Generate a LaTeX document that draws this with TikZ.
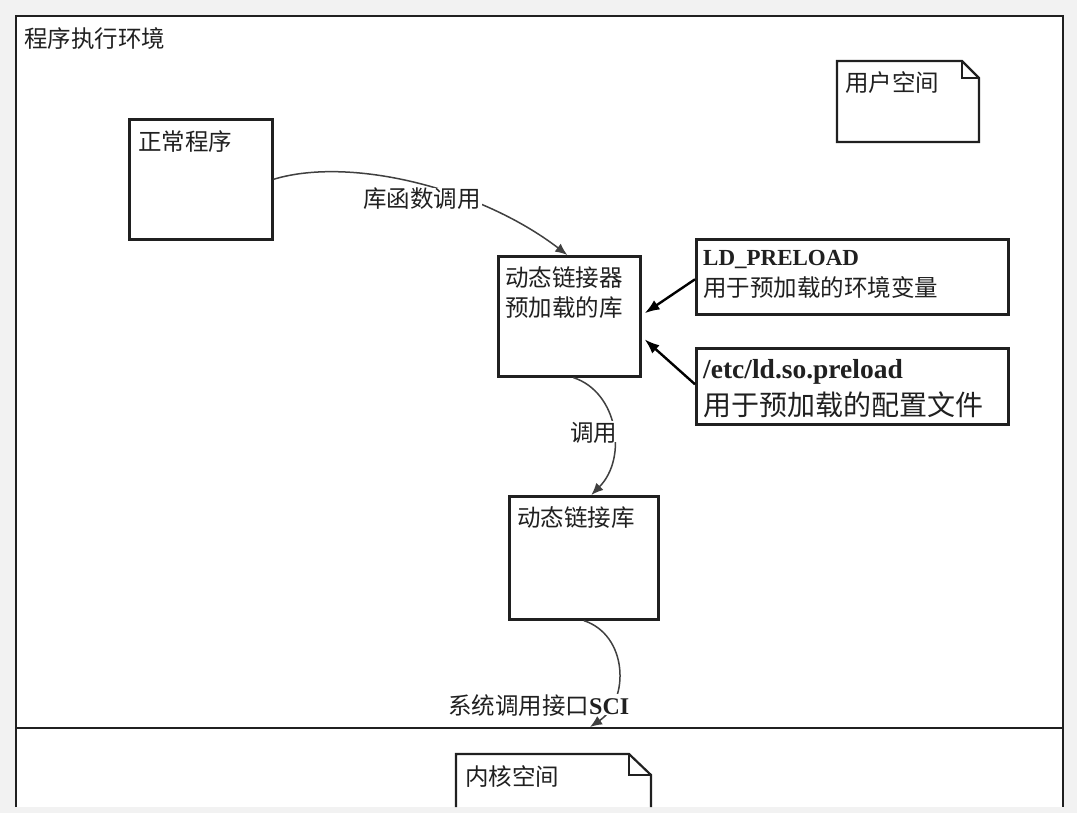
\documentclass[tikz,border=0pt]{standalone}
\usepackage{fontspec}
\setmainfont{Noto Sans CJK SC}
\newfontfamily\tnr{Liberation Serif}
\usetikzlibrary{arrows.meta}
\definecolor{ink}{HTML}{202020}
\definecolor{bgc}{HTML}{F2F2F2}
\definecolor{curvec}{HTML}{404040}
\begin{document}
\begin{tikzpicture}[x=1pt,y=-1pt,
  box/.style={draw=ink, line width=2.6pt, anchor=north west, inner sep=0pt},
  txt/.style={anchor=base west, inner sep=0pt, text=ink, font=\fontsize{23.5}{28}\selectfont},
  bigtxt/.style={txt, font=\fontsize{28}{32}\selectfont},
  lbl/.style={txt, fill=white, inner xsep=1pt, inner ysep=0.5pt, text depth=0pt},
  conn/.style={draw=curvec, line width=1.5pt, -{Latex[length=12pt,width=10pt]}},
  strong/.style={draw=black, line width=2.4pt, -{Latex[length=15pt,width=11pt]}},
  frame/.style={draw=ink, line width=2.6pt},
  note/.style={draw=ink, line width=2.2pt, line join=miter}]
\fill[bgc] (0,0) rectangle (1077,813);
\useasboundingbox (0,0) rectangle (1077,813);
% outer frame
\fill[white] (16,16) rectangle (1063,807);
\draw[frame] (16,807) -- (16,16) -- (1063,16) -- (1063,807);
\draw[draw=ink, line width=2.2pt] (16,728) -- (1063,728);
\node[txt] (env) at (24,48) {程序执行环境};
% user space note
\draw[note] (837,61) -- (962,61) -- (979,78) -- (979,142) -- (837,142) -- cycle;
\draw[note, line width=1.6pt] (962,61) -- (962,78) -- (979,78);
\node[txt] (user) at (845,91.5) {用户空间};
% kernel space note
\draw[note] (456,807) -- (456,754) -- (629,754) -- (651,775) -- (651,807);
\draw[note, line width=1.6pt] (629,754) -- (629,775) -- (651,775);
\node[txt] (kernel) at (465,785) {内核空间};
% boxes
\node[box, minimum width=143, minimum height=120] (np) at (128,118) {};
\node[txt] (npt) at (138,151) {正常程序};
\node[box, minimum width=142, minimum height=120] (dl) at (497,255) {};
\node[txt] (dlt1) at (505,287) {动态链接器};
\node[txt] (dlt2) at (505,316.5) {预加载的库};
\node[box, minimum width=312, minimum height=75] (ld) at (695,238) {};
\node[txt, font=\tnr\bfseries\fontsize{23}{26}\selectfont] (ldt1) at (703,266) {LD\_PRELOAD};
\node[txt] (ldt2) at (703,296.5) {用于预加载的环境变量};
\node[box, minimum width=312, minimum height=76] (etc) at (695,347) {};
\node[txt, font=\tnr\bfseries\fontsize{27.5}{30}\selectfont] (etct1) at (703,378) {/etc/ld.so.preload};
\node[bigtxt] (etct2) at (703,415.5) {用于预加载的配置文件};
\node[box, minimum width=149, minimum height=123] (dll) at (508,495) {};
\node[txt] (dllt) at (517,526) {动态链接库};
\coordinate (sci) at (590,727);
% connectors
\draw[conn] (np.east) .. controls (350,156) and (480,188) .. ([shift={(-2,0)}]dl.north);
\draw[conn] ([shift={(4,0)}]dl.south) .. controls (618,392) and (628,458) .. ([shift={(7.5,0)}]dll.north);
\draw[conn] (dll.south) .. controls (628,635) and (630,700) .. (sci);
\draw[strong] ([shift={(0,2.5)}]ld.west) -- ([shift={(3,-3)}]dl.east);
\draw[strong] ([shift={(0,-2)}]etc.west) -- ([shift={(3,23)}]dl.east);
% labels on connectors
\node[lbl] (l1) at (362,208) {库函数调用};
\node[lbl] (l2) at (569,441) {调用};
\node[lbl] (l3) at (447,714) {系统调用接口{\tnr\bfseries\fontsize{24}{26}\selectfont SCI}};
\end{tikzpicture}
\end{document}
